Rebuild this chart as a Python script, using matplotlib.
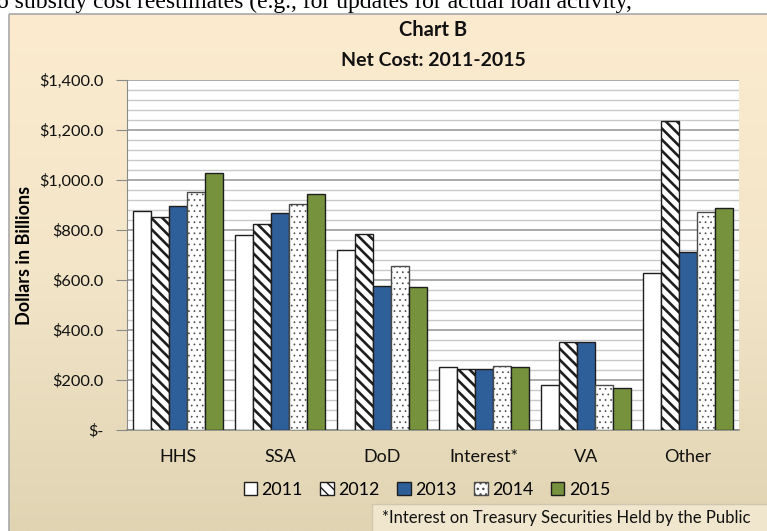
import numpy as np
import matplotlib
matplotlib.use("Agg")
import matplotlib.pyplot as plt
from matplotlib.patches import Rectangle
from matplotlib.ticker import FuncFormatter, MultipleLocator

categories = ["HHS", "SSA", "DoD", "Interest*", "VA", "Other"]
years = ["2011", "2012", "2013", "2014", "2015"]
v2011 = [877, 781, 719, 251, 179, 629]
v2012 = [853, 823, 784, 243, 353, 1236]
v2013 = [896, 868, 576, 245, 353, 713]
v2014 = [951, 904, 657, 256, 179, 873]
v2015 = [1027, 945, 572, 251, 169, 889]
series = [v2011, v2012, v2013, v2014, v2015]

title1 = "Chart B"
title2 = "Net Cost: 2011-2015"
ylabel = "Dollars in Billions"
footnote = "*Interest on Treasury Securities Held by the Public"
top_text = "o subsidy cost reestimates (e.g., for updates for actual loan activity,"

plt.rcParams['font.family'] = ['Lato', 'DejaVu Sans']

W, H = 767, 531
fig = plt.figure(figsize=(W / 100, H / 100), dpi=100)

# background panel
FT = 14
bg = fig.add_axes([0, 0, 1, 1], zorder=-5)
bg.set_xlim(0, W)
bg.set_ylim(H, 0)
bg.axis("off")
top_c = np.array([0xFC, 0xEB, 0xCF]) / 255
mid_c = np.array([0xF3, 0xE5, 0xC8]) / 255
bot_c = np.array([0xE0, 0xD4, 0xB3]) / 255
n = 256
t = np.linspace(0, 1, n)[:, None]
grad = np.where(t < 0.5, top_c + (mid_c - top_c) * (t / 0.5), mid_c + (bot_c - mid_c) * ((t - 0.5) / 0.5))
grad = grad[:, None, :]
bg.imshow(grad, extent=[9, W, H, FT], aspect="auto", interpolation="bilinear")
bg.add_patch(Rectangle((9, FT), W - 8, H, fill=False, edgecolor="#a8a8a8", lw=1.2))
# footnote box
bg.add_patch(Rectangle((372, 504), W - 371, 30, facecolor="#efe6cd", edgecolor="#cfc6ad", lw=1))
bg.text(382, 518, footnote, fontsize=12, va="center", ha="left", color="#111111")
bg.text(-3, 8, top_text, fontsize=17, family=["Liberation Serif", "DejaVu Serif"],
        va="baseline", ha="left", color="#000000")

# main axes
left, right, top, bottom = 127, 739, 80, 430
ax = fig.add_axes([left / W, 1 - bottom / H, (right - left) / W, (bottom - top) / H])
ax.set_facecolor("white")

x = np.arange(len(categories))
bw = 0.1765
faces = ["white", "white", "#2f5f98", "white", "#76923c"]
edges = ["#1e1e1e", "#1e1e1e", "#1e1e1e", "#4a4a4a", "#1e1e1e"]
hatches = [None, "\\\\\\", None, "...", None]
hlw = [1.0, 1.9, 1.0, 0.5, 1.0]
for i, (vals, fc, ec, hc, lab) in enumerate(zip(series, faces, edges, hatches, years)):
    with plt.rc_context({"hatch.linewidth": hlw[i]}):
        bars = ax.bar(x + (i - 2) * bw, vals, width=bw, color=fc, edgecolor=ec,
                      linewidth=1.0, hatch=hc, label=lab, zorder=3)
        for b in bars:
            if hasattr(b, "set_hatch_linewidth"):
                b.set_hatch_linewidth(hlw[i])

ax.set_xlim(-0.5, len(categories) - 0.5)
ax.set_ylim(0, 1400)
ax.yaxis.set_major_locator(MultipleLocator(200))
ax.yaxis.set_minor_locator(MultipleLocator(40))
ax.grid(True, which="major", axis="y", color="#9c9c9c", lw=1.2, zorder=0)
ax.grid(True, which="minor", axis="y", color="#c9c9c9", lw=1.0, zorder=0)


def fmt(v, pos):
    if v == 0:
        return "$-"
    return "${:,.1f}".format(v)


ax.yaxis.set_major_formatter(FuncFormatter(fmt))
ax.tick_params(axis="y", which="major", length=8, color="#8a8a8a", labelsize=11.8, pad=9,
               labelcolor="#111111")
ax.tick_params(axis="y", which="minor", length=0)
ax.set_xticks(x)
ax.set_xticklabels(categories, fontsize=13, color="#111111")
ax.tick_params(axis="x", length=0, pad=14)
for s in ["top", "right"]:
    ax.spines[s].set_visible(False)
ax.spines["left"].set_color("#8a8a8a")
ax.spines["bottom"].set_color("#8a8a8a")
ax.spines["bottom"].set_linewidth(1.2)

ax.set_ylabel(ylabel, fontsize=13, fontweight="bold", color="#000000")
ax.yaxis.set_label_coords(-0.153, 0.5)

fig.text(433 / W, 1 - 30 / H, title1, ha="center", va="center", fontsize=14.5,
         fontweight="bold", color="#111111")
fig.text(433 / W, 1 - 60 / H, title2, ha="center", va="center", fontsize=14,
         fontweight="bold", color="#111111")

leg = ax.legend(loc="center", bbox_to_anchor=(0.49, 1 - (490 - top) / (bottom - top)),
                ncol=5, frameon=False, fontsize=12.8, handlelength=0.75, handleheight=0.75,
                handletextpad=0.25, columnspacing=1.0)

fig.savefig("out.png", dpi=100)
